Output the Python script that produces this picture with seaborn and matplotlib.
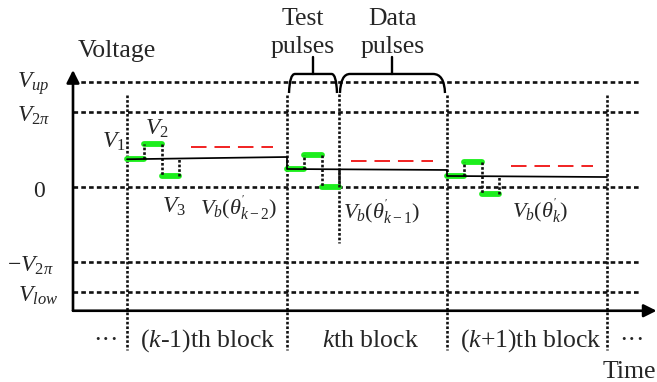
import numpy as np
import pandas as pd
import matplotlib
matplotlib.use("Agg")
import matplotlib.pyplot as plt
from matplotlib.path import Path
from matplotlib.patches import PathPatch
import seaborn as sns

# ---- data (time in block units, voltage in units of V_2pi) ----
block_starts = [0.0, 1.0, 2.0]          # (k-1)th, kth, (k+1)th block
block_end = 3.0
pulse_width = 0.108
v1_levels = [0.37, 0.24, 0.147]
v2_levels = [0.573, 0.427, 0.333]
v3_levels = [0.147, 0.0, -0.093]
bias_start = [0.37, 0.24, 0.147]
bias_end = [0.40, 0.227, 0.133]
ref_levels = [0.533, 0.347, 0.28]
ref_span = [0.40, 0.91]

level_names = [r"$V_{up}$", r"$V_{2\pi}$", "0", r"$-V_{2\pi}$", r"$V_{low}$"]
level_values = [1.4, 1.0, 0.0, -1.0, -1.4]

block_labels = [r"($k$-1)th block", r"$k$th block", r"($k$+1)th block"]
bias_labels = [r"$V_b(\theta^{'}_{k-2})$", r"$V_b(\theta^{'}_{k-1})$", r"$V_b(\theta^{'}_{k})$"]

# brace spans (start, end, stem) above the kth block
test_brace = [1.0125, 1.3125, 1.1625]
data_brace = [1.331, 1.9875, 1.656]

# ---- style ----
sns.set_theme(style="white")
plt.rcParams["font.family"] = ["Liberation Serif", "DejaVu Serif"]
plt.rcParams["mathtext.fontset"] = "custom"
plt.rcParams["mathtext.rm"] = "Liberation Serif"
plt.rcParams["mathtext.it"] = "Liberation Serif:italic"
plt.rcParams["mathtext.bf"] = "Liberation Serif:bold"

GREEN = "#1cee1c"
RED = "#f01010"
FS = 16
FT = 18.5

fig = plt.figure(figsize=(6.57, 3.82), dpi=100)
ax = fig.add_axes([0, 0, 1, 1])
ax.set_xlim(-0.79375, 3.3125)
ax.set_ylim(-2.6, 2.4933)
ax.axis("off")

x_axis_v = -1.65
y_axis_t = -0.3375
grid_end = 3.206
hdots = (0, (1.75, 1.2))
vdots = (0, (1.0, 0.75))
DLW = 1.9

# horizontal reference levels
for val in level_values:
    ax.plot([y_axis_t, grid_end], [val, val], color="#111111", lw=DLW,
            linestyle=hdots, zorder=1)

# block boundaries
for tb in block_starts + [block_end]:
    ax.plot([tb, tb], [1.22, -2.17], color="#111111", lw=DLW,
            linestyle=vdots, zorder=1)
# boundary between test and data pulses in the kth block
t_split = block_starts[1] + 3 * pulse_width
ax.plot([t_split, t_split], [1.24, -0.75], color="#111111", lw=DLW,
        linestyle=vdots, zorder=1)

# axes with arrows
ax.annotate("", xy=(3.31, x_axis_v), xytext=(y_axis_t, x_axis_v),
            arrowprops=dict(arrowstyle="-|>", lw=1.9, color="black",
                            mutation_scale=19, shrinkA=0, shrinkB=0))
ax.annotate("", xy=(y_axis_t, 1.56), xytext=(y_axis_t, x_axis_v),
            arrowprops=dict(arrowstyle="-|>", lw=1.9, color="black",
                            mutation_scale=19, shrinkA=0, shrinkB=0))

# pulse segments
rows = []
conn = []
for b, t0 in enumerate(block_starts):
    levels = [v1_levels[b], v2_levels[b], v3_levels[b]]
    for i, lv in enumerate(levels):
        seg = f"{b}-{i}"
        rows.append({"t": t0 + i * pulse_width, "v": lv, "seg": seg})
        rows.append({"t": t0 + (i + 1) * pulse_width, "v": lv, "seg": seg})
    conn.append((t0 + pulse_width, levels[0], levels[1]))
    conn.append((t0 + 2 * pulse_width, levels[1], levels[2]))
    conn.append((t0 + 3 * pulse_width, levels[2], bias_start[b]))
pulses = pd.DataFrame(rows)
sns.lineplot(data=pulses, x="t", y="v", units="seg", estimator=None, sort=False,
             color=GREEN, lw=4.2, solid_capstyle="round", legend=False, ax=ax,
             zorder=2)
for tc, a, b_ in conn:
    ax.plot([tc, tc], [a, b_], color="#111111", lw=DLW, linestyle=vdots, zorder=3)

# bias voltage
bias_t, bias_v = [], []
for b, t0 in enumerate(block_starts):
    bias_t += [t0, t0 + 1.0]
    bias_v += [bias_start[b], bias_end[b]]
bias = pd.DataFrame({"t": bias_t, "v": bias_v})
sns.lineplot(data=bias, x="t", y="v", estimator=None, sort=False,
             color="black", lw=1.25, legend=False, ax=ax, zorder=4)

# reference levels (red dashed)
ref_rows = []
for b, t0 in enumerate(block_starts):
    ref_rows.append({"t": t0 + ref_span[0], "v": ref_levels[b], "blk": b})
    ref_rows.append({"t": t0 + ref_span[1], "v": ref_levels[b], "blk": b})
ref = pd.DataFrame(ref_rows)
sns.lineplot(data=ref, x="t", y="v", units="blk", estimator=None, sort=False,
             color=RED, lw=1.3, linestyle=(0, (8.6, 4.4)), legend=False, ax=ax,
             zorder=4)

# braces
def brace(span, dx_left, dx_right, bottom=1.253, top=1.507, stem_top=1.733):
    t0, t1, ts = span
    verts = [(t0, bottom), (t0 + 0.004, top), (t0 + dx_left, top),
             (t1 - dx_right, top), (t1 - 0.004, top), (t1, bottom)]
    codes = [Path.MOVETO, Path.CURVE3, Path.CURVE3,
             Path.LINETO, Path.CURVE3, Path.CURVE3]
    ax.add_patch(PathPatch(Path(verts, codes), fill=False, lw=1.7,
                           edgecolor="black", zorder=5))
    ax.plot([ts, ts], [top, stem_top], color="black", lw=1.7, zorder=5)

brace(test_brace, 0.0375, 0.034)
brace(data_brace, 0.0625, 0.075)

# texts
ax.text(-0.306, 1.733, "Voltage", fontsize=FT, ha="left", va="baseline")
ax.text(1.1, 2.16, "Test", fontsize=FT, ha="center", va="baseline")
ax.text(1.1, 1.787, "pulses", fontsize=FT, ha="center", va="baseline")
ax.text(1.6625, 2.16, "Data", fontsize=FT, ha="center", va="baseline")
ax.text(1.6625, 1.787, "pulses", fontsize=FT, ha="center", va="baseline")

label_x = [-0.6875, -0.6875, -0.5875, -0.75, -0.681]
label_base = [1.32, 0.867, -0.133, -1.133, -1.533]
for name, lx, lb in zip(level_names, label_x, label_base):
    ax.text(lx, lb, name, fontsize=17, ha="left", va="baseline")

ax.text(-0.156, 0.52, r"$V_1$", fontsize=17, ha="left", va="baseline")
ax.text(0.1125, 0.693, r"$V_2$", fontsize=17, ha="left", va="baseline")
ax.text(0.219, -0.347, r"$V_3$", fontsize=17, ha="left", va="baseline")

for lbl, lx, lb in zip(bias_labels, [0.456, 1.35, 2.406], [-0.373, -0.427, -0.413]):
    ax.text(lx, lb, lbl, fontsize=FS, ha="left", va="baseline")

for lbl, lx in zip(block_labels, [0.081, 1.219, 2.081]):
    ax.text(lx, -2.133, lbl, fontsize=FT, ha="left", va="baseline")
ax.text(-0.131, -2.133, "\u00b7\u00b7\u00b7", fontsize=FT, ha="center", va="baseline")
ax.text(3.156, -2.133, "\u00b7\u00b7\u00b7", fontsize=FT, ha="center", va="baseline")
ax.text(2.975, -2.547, "Time", fontsize=FT, ha="left", va="baseline")

fig.savefig("out.png", dpi=100)
